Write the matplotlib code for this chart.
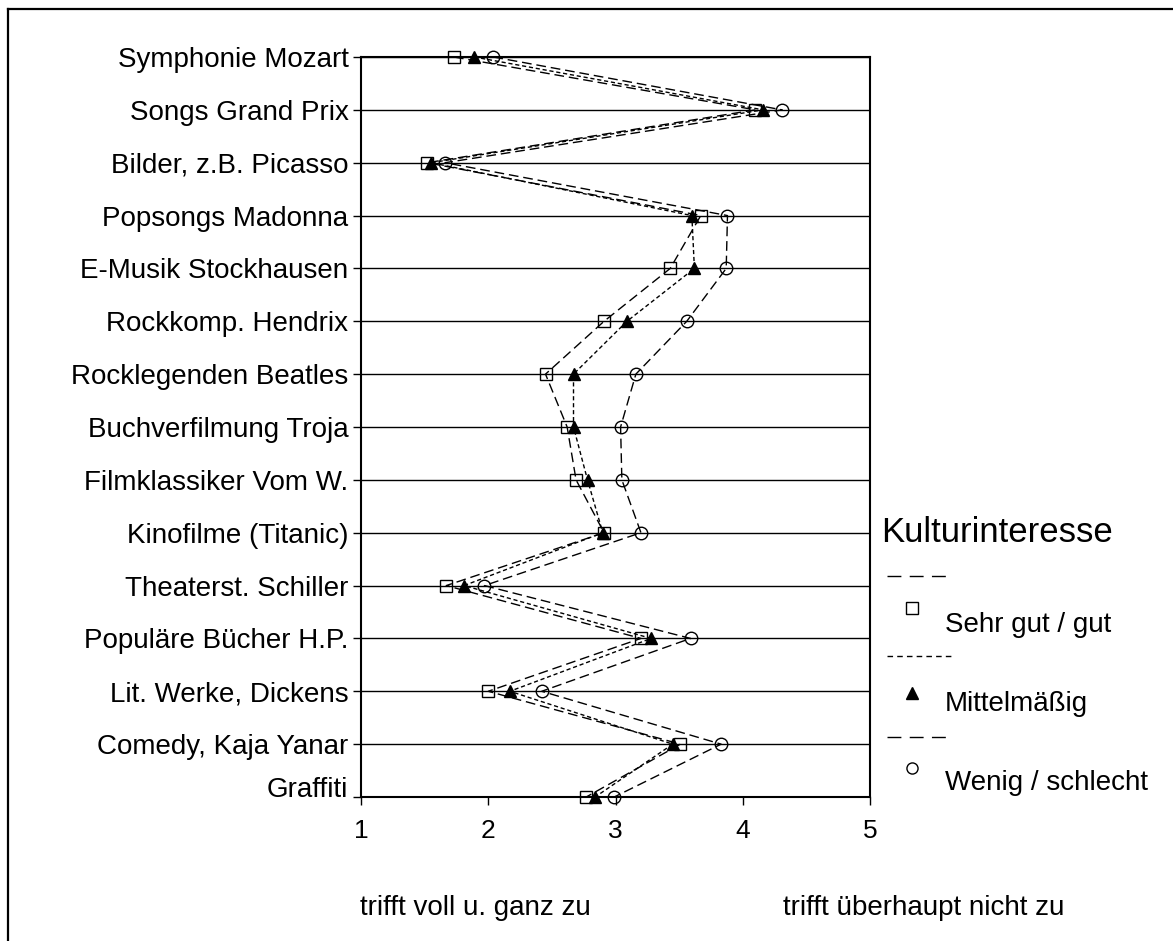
import matplotlib
matplotlib.use('Agg')
import matplotlib.pyplot as plt
from matplotlib.lines import Line2D

plt.rcParams['font.family'] = ['Liberation Sans', 'DejaVu Sans']

# Daten (Mittelwerte)
kategorien = ["Symphonie Mozart", "Songs Grand Prix", "Bilder, z.B. Picasso",
              "Popsongs Madonna", "E-Musik Stockhausen", "Rockkomp. Hendrix",
              "Rocklegenden Beatles", "Buchverfilmung Troja", "Filmklassiker Vom W.",
              "Kinofilme (Titanic)", "Theaterst. Schiller", "Populäre Bücher H.P.",
              "Lit. Werke, Dickens", "Comedy, Kaja Yanar", "Graffiti"]
sehr_gut = [1.73, 4.10, 1.52, 3.67, 3.43, 2.91, 2.45, 2.62, 2.69, 2.91, 1.67, 3.20, 2.00, 3.51, 2.77]
mittel = [1.89, 4.16, 1.55, 3.60, 3.62, 3.09, 2.67, 2.67, 2.78, 2.90, 1.81, 3.28, 2.17, 3.45, 2.84]
wenig = [2.04, 4.31, 1.66, 3.88, 3.87, 3.56, 3.16, 3.04, 3.05, 3.20, 1.97, 3.59, 2.42, 3.83, 2.99]
gruppen = ["Sehr gut / gut", "Mittelmäßig", "Wenig / schlecht"]
x_ticks = [1, 2, 3, 4, 5]

W, H = 1173, 941
fx = lambda px: px / W
fy = lambda py: 1 - py / H

fig = plt.figure(figsize=(W / 100, H / 100), dpi=100)
ax = fig.add_axes([fx(361), fy(797), fx(870) - fx(361), fy(57) - fy(797)])

pos = list(range(len(kategorien)))
lang = (0, (7, 3.5))
kurz = (0, (3, 2))
stile = [(sehr_gut, 's', 'none', lang),
         (mittel, '^', 'black', kurz),
         (wenig, 'o', 'none', lang)]
for werte, m, fc, ls in stile:
    ax.plot(werte, pos, color='black', lw=1.0, linestyle=ls, marker=m,
            markersize=9, markerfacecolor=fc, markeredgecolor='black',
            markeredgewidth=1.0, zorder=3, clip_on=False)

ax.set_xlim(1, 5)
ax.set_ylim(len(kategorien) - 1, 0)
ax.set_yticks(pos)
ax.set_yticklabels(kategorien, fontsize=20)
ax.set_xticks(x_ticks)
ax.set_xticklabels([str(v) for v in x_ticks], fontsize=19)
ax.tick_params(axis='y', length=6, width=1.0, pad=3)
ax.tick_params(axis='x', length=6, width=1.0, pad=10)
ax.yaxis.grid(True, color='black', lw=1.0)
ax.set_axisbelow(True)
for s in ax.spines.values():
    s.set_linewidth(1.5)
ax.get_yticklabels()[-1].set_va('baseline')

# Beschriftung unter der Achse
fig.text(fx(360), fy(908), "trifft voll u. ganz zu", fontsize=20, va='center', ha='left')
fig.text(fx(783), fy(908), "trifft überhaupt nicht zu", fontsize=20, va='center', ha='left')

# Legende
fig.text(fx(881), fy(533), "Kulturinteresse", fontsize=25, va='center', ha='left')
leg_y = [(576, 608, 625), (656, 693, 704), (737, 768, 783)]
for (ly, my, ty), (werte, m, fc, ls), name in zip(leg_y, stile, gruppen):
    if ls == lang:
        lls = (0, (10, 6))
    else:
        lls = (0, (4, 3))
    fig.add_artist(Line2D([fx(887), fx(952)], [fy(ly), fy(ly)], color='black',
                          lw=1.0, linestyle=lls, transform=fig.transFigure))
    fig.add_artist(Line2D([fx(912)], [fy(my)], marker=m, markersize=8,
                          markerfacecolor=fc, markeredgecolor='black',
                          markeredgewidth=1.0, linestyle='none',
                          transform=fig.transFigure))
    fig.text(fx(945), fy(ty), name, fontsize=20, va='center', ha='left')

# Rahmen
fig.add_artist(Line2D([fx(8), fx(8)], [fy(9), 0], color='black', lw=1.6,
                      transform=fig.transFigure))
fig.add_artist(Line2D([fx(8), 1], [fy(9), fy(9)], color='black', lw=1.6,
                      transform=fig.transFigure))

fig.savefig('out.png', dpi=100)
